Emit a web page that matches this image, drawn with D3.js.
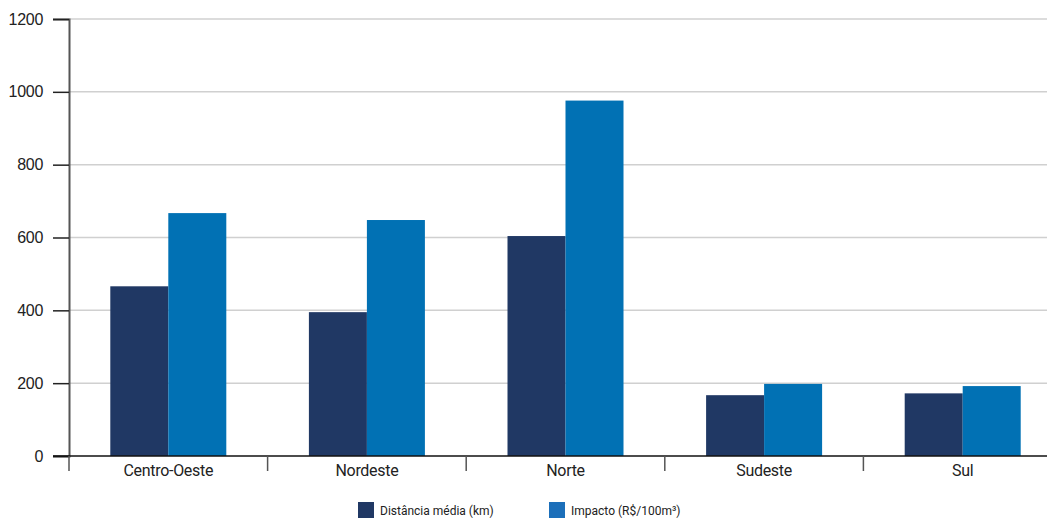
<!DOCTYPE html>
<html>
<head>
  <meta charset="utf-8">
  <title>Distância média e impacto por região</title>
  <style>
  body { margin: 0; background: #fff; }
  svg { display: block; font-family: Roboto, sans-serif; }
  .grid line { stroke: #d0d0d0; stroke-width: 1.5px; }
  </style>
</head>
<body>
  <svg width="1047" height="519"></svg>
  <script src="https://d3js.org/d3.v7.min.js"></script>
  <script>
  // regiões
  var regioes = ["Centro-Oeste", "Nordeste", "Norte", "Sudeste", "Sul"];
  // séries
  var distancia = [466, 395, 604, 167, 172];
  var impacto = [667, 648, 976, 198, 192];
  var series = ["Distância média (km)", "Impacto (R$/100m³)"];
  var cores = ["#203864", "#0171b4"];
  var coresLegenda = ["#203864", "#1c6fba"];
  var yTicks = [0, 200, 400, 600, 800, 1000, 1200];

  var svg = d3.select("svg"),
      mLeft = 69, mRight = 1062, mTop = 19, mBottom = 456;

  var x = d3.scaleBand().domain(regioes).range([mLeft, mRight]);
  var xs = d3.scaleBand().domain([0, 1]).range([0, 116]);
  var y = d3.scaleLinear().domain([0, 1200]).range([mBottom, mTop]);

  // linhas de grade
  svg.append("g").attr("class", "grid")
    .selectAll("line").data(yTicks.slice(1)).join("line")
    .attr("x1", mLeft).attr("x2", 1047)
    .attr("y1", d => y(d)).attr("y2", d => y(d));

  // barras
  var dados = regioes.map((r, i) => ({r: r, v: [distancia[i], impacto[i]]}));
  var grupos = svg.append("g").selectAll("g").data(dados).join("g")
    .attr("transform", d => "translate(" + (x(d.r) + x.bandwidth() / 2 - 58) + ",0)");
  grupos.selectAll("rect").data(d => d.v).join("rect")
    .attr("x", (d, i) => xs(i))
    .attr("width", xs.bandwidth())
    .attr("y", d => y(d))
    .attr("height", d => mBottom - y(d))
    .attr("fill", (d, i) => cores[i]);

  // eixo y
  var gy = svg.append("g").attr("transform", "translate(" + mLeft + ",0)")
    .call(d3.axisLeft(y).tickValues(yTicks).tickFormat(d3.format("d")).tickSize(16).tickPadding(10));
  gy.select(".domain").attr("stroke", "#555").attr("stroke-width", 2);
  gy.selectAll(".tick line").attr("stroke", "#222").attr("stroke-width", 1.5);
  gy.selectAll(".tick text").attr("font-size", 16).attr("fill", "#222")
    .attr("letter-spacing", -0.3);

  // eixo x
  var gx = svg.append("g").attr("transform", "translate(0," + mBottom + ")");
  gx.append("line").attr("x1", 53).attr("x2", 1047)
    .attr("stroke", "#111").attr("stroke-width", 1.5);
  gx.selectAll(".sep").data(regioes).join("line").attr("class", "sep")
    .attr("x1", d => x(d)).attr("x2", d => x(d))
    .attr("y1", 0).attr("y2", 15)
    .attr("stroke", "#555").attr("stroke-width", 1.5);
  gx.selectAll(".lbl").data(regioes).join("text").attr("class", "lbl")
    .attr("x", d => x(d) + x.bandwidth() / 2)
    .attr("y", 20)
    .attr("text-anchor", "middle")
    .attr("fill", "#222")
    .attr("font-size", 16)
    .attr("letter-spacing", -0.3)
    .text(d => d);

  // legenda
  var legX = [358, 549];
  var leg = svg.append("g").selectAll("g").data(series).join("g")
    .attr("transform", (d, i) => "translate(" + legX[i] + ",502)");
  leg.append("rect").attr("width", 16).attr("height", 16)
    .attr("fill", (d, i) => coresLegenda[i]);
  leg.append("text").attr("x", 22).attr("y", 13)
    .attr("font-size", 12).attr("fill", "#222")
    .text(d => d);
  </script>
</body>
</html>
